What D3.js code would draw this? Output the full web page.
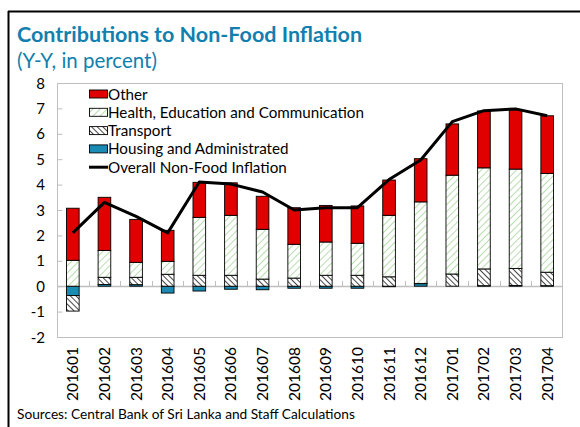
<!DOCTYPE html>
<html lang="en">
<head>
<meta charset="UTF-8">
<title>Contributions to Non-Food Inflation</title>
<script src="https://d3js.org/d3.v7.min.js"></script>
<style>
  body { margin: 0; background: #fff; }
  svg text { font-family: Lato, "Open Sans", sans-serif; }
</style>
</head>
<body>
<svg width="580" height="427"></svg>
<script>
// data
const months = ["201601","201602","201603","201604","201605","201606","201607","201608",
                "201609","201610","201611","201612","201701","201702","201703","201704"];
const other     = [2.05, 2.09, 1.69, 1.22, 1.38, 1.28, 1.30, 1.44, 1.44, 1.47, 1.39, 1.70, 2.02, 2.24, 2.33, 2.27];
const health    = [1.02, 1.06, 0.59, 0.51, 2.28, 2.36, 1.96, 1.33, 1.31, 1.26, 2.42, 3.21, 3.89, 3.98, 3.91, 3.89];
const transport = [-0.61, 0.28, 0.29, 0.47, 0.43, 0.43, 0.28, 0.32, 0.43, 0.43, 0.37, 0.01, 0.48, 0.66, 0.67, 0.53];
const housing   = [-0.37, 0.07, 0.06, -0.27, -0.19, -0.12, -0.14, -0.08, -0.08, -0.08, -0.02, 0.10, 0.00, 0.02, 0.03, 0.02];
const overall   = [2.1, 3.3, 2.75, 2.1, 4.1, 4.02, 3.71, 3.0, 3.09, 3.09, 4.2, 4.97, 6.48, 6.91, 6.98, 6.71];
const yTicks = [-2, -1, 0, 1, 2, 3, 4, 5, 6, 7, 8];

const keys = ["housing", "transport", "health", "other"];
const rows = months.map((m, i) => ({
  month: m, housing: housing[i], transport: transport[i], health: health[i], other: other[i]
}));

const svg = d3.select("svg");
const blue = "#127fae";

// patterns
const defs = svg.append("defs");
const pg = defs.append("pattern").attr("id", "pHealth").attr("patternUnits", "userSpaceOnUse")
  .attr("width", 5).attr("height", 5).attr("patternTransform", "rotate(45)");
pg.append("rect").attr("width", 5).attr("height", 5).attr("fill", "#fff");
pg.append("line").attr("x1", 0).attr("y1", 0).attr("x2", 0).attr("y2", 5)
  .attr("stroke", "#a6d59a").attr("stroke-width", 1.6);
const pt = defs.append("pattern").attr("id", "pTransport").attr("patternUnits", "userSpaceOnUse")
  .attr("width", 4).attr("height", 4).attr("patternTransform", "rotate(-45)");
pt.append("rect").attr("width", 4).attr("height", 4).attr("fill", "#fff");
pt.append("line").attr("x1", 0).attr("y1", 0).attr("x2", 0).attr("y2", 4)
  .attr("stroke", "#333").attr("stroke-width", 1.8);

const fills = {
  other: "#e00000",
  health: "url(#pHealth)",
  transport: "url(#pTransport)",
  housing: "#1a8cb3"
};

// outer frame (left and top only visible)
svg.append("line").attr("x1", 8.5).attr("x2", 8.5).attr("y1", 11).attr("y2", 427)
  .attr("stroke", "#000").attr("stroke-width", 2);
svg.append("line").attr("x1", 8).attr("x2", 580).attr("y1", 11.5).attr("y2", 11.5)
  .attr("stroke", "#000").attr("stroke-width", 2);

// titles
svg.append("text").attr("x", 17).attr("y", 42).attr("fill", blue)
  .style("font-size", "21.5px").style("font-weight", "bold")
  .text("Contributions to Non-Food Inflation");
svg.append("text").attr("x", 17).attr("y", 68).attr("fill", blue)
  .style("font-size", "20.5px")
  .text("(Y-Y, in percent)");

const plotL = 57, plotR = 563, plotT = 83, plotB = 337;

const x = d3.scaleBand().domain(months).range([plotL, plotR]).paddingInner(0.6).paddingOuter(0.3);
const y = d3.scaleLinear().domain([-2, 8]).range([plotB, plotT]);

// plot frame
svg.append("rect").attr("x", plotL + 0.5).attr("y", plotT + 0.5)
  .attr("width", plotR - plotL - 1).attr("height", plotB - plotT)
  .attr("fill", "none").attr("stroke", "#bfbfbf");

// y axis
const yAxis = svg.append("g").attr("transform", `translate(${plotL + 0.5},0)`)
  .call(d3.axisRight(y).tickValues(yTicks).tickSize(5).tickFormat(""));
yAxis.select(".domain").remove();
yAxis.selectAll("line").attr("stroke", "#bfbfbf");

svg.selectAll(".ylab").data(yTicks).enter().append("text")
  .attr("class", "ylab")
  .attr("x", 45).attr("y", d => y(d) + 5.5)
  .attr("text-anchor", "end")
  .style("font-size", "15px")
  .text(d => d);

// zero axis with category separators
const step = x.step();
svg.append("line").attr("x1", plotL).attr("x2", plotR)
  .attr("y1", Math.round(y(0)) + 0.5).attr("y2", Math.round(y(0)) + 0.5)
  .attr("stroke", "#bfbfbf").attr("stroke-width", 1.3);
svg.selectAll(".sep").data(months.slice(1)).enter().append("line")
  .attr("class", "sep")
  .attr("x1", d => Math.round(x(d) - step * 0.3) + 0.5)
  .attr("x2", d => Math.round(x(d) - step * 0.3) + 0.5)
  .attr("y1", Math.round(y(0))).attr("y2", Math.round(y(0)) - 5)
  .attr("stroke", "#bfbfbf");

// stacked bars
const series = d3.stack().keys(keys).offset(d3.stackOffsetDiverging)(rows);
svg.append("g").selectAll("g").data(series).enter().append("g")
  .attr("fill", d => fills[d.key])
  .selectAll("rect").data(d => d).enter().append("rect")
  .attr("x", d => x(d.data.month))
  .attr("y", d => y(Math.max(d[0], d[1])))
  .attr("width", x.bandwidth())
  .attr("height", d => Math.abs(y(d[0]) - y(d[1])))
  .attr("stroke", "#000").attr("stroke-width", 0.9);

// overall line
const line = d3.line().x((d, i) => x(months[i]) + x.bandwidth() / 2).y(d => y(d));
svg.append("path").datum(overall).attr("d", line)
  .attr("fill", "none").attr("stroke", "#000").attr("stroke-width", 3)
  .attr("stroke-linejoin", "round");

// x labels
svg.selectAll(".xlab").data(months).enter().append("text")
  .attr("class", "xlab")
  .attr("transform", d => `translate(${x(d) + x.bandwidth() / 2 + 5.5},347) rotate(-90)`)
  .attr("text-anchor", "end")
  .style("font-size", "15.5px")
  .text(d => d);

// legend
const legend = [
  { label: "Other", key: "other" },
  { label: "Health, Education and Communication", key: "health" },
  { label: "Transport", key: "transport" },
  { label: "Housing and Administrated", key: "housing" },
  { label: "Overall Non-Food Inflation", key: "line" }
];
const lg = svg.append("g").selectAll("g").data(legend).enter().append("g")
  .attr("transform", (d, i) => `translate(89,${94 + i * 18.3})`);
lg.filter(d => d.key !== "line").append("rect")
  .attr("x", 0.5).attr("y", -4).attr("width", 18).attr("height", 8)
  .attr("fill", d => fills[d.key]).attr("stroke", "#000").attr("stroke-width", 0.9);
lg.filter(d => d.key === "line").append("line")
  .attr("x1", 0).attr("x2", 19).attr("y1", 0).attr("y2", 0)
  .attr("stroke", "#000").attr("stroke-width", 3);
lg.append("text").attr("x", 19).attr("y", 5.5)
  .style("font-size", "15.2px")
  .text(d => d.label);

// source
svg.append("text").attr("x", 17).attr("y", 419)
  .style("font-size", "13.7px")
  .text("Sources: Central Bank of Sri Lanka and Staff Calculations");
</script>
</body>
</html>
